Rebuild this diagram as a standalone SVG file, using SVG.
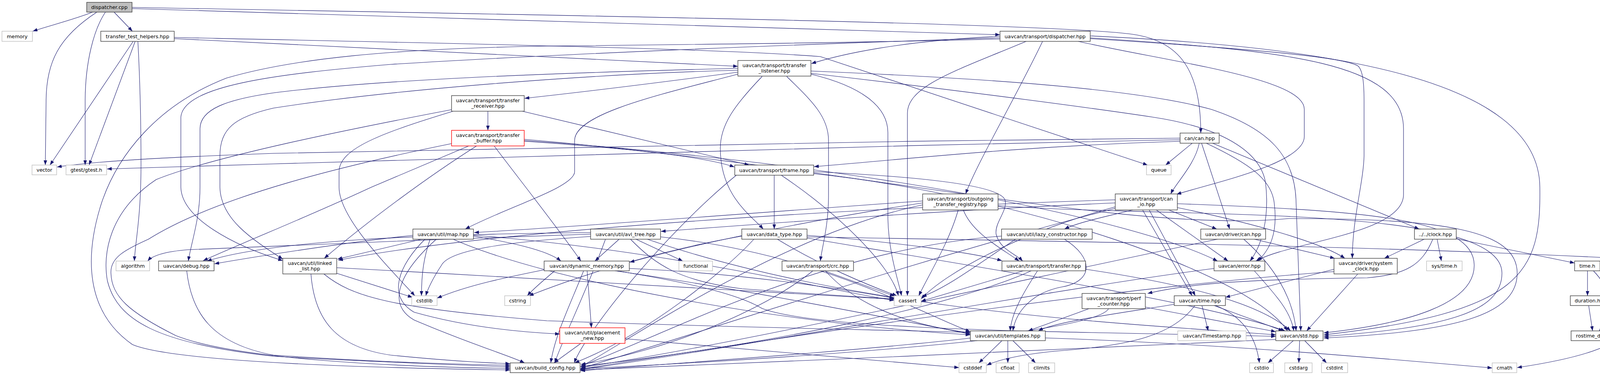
<svg xmlns="http://www.w3.org/2000/svg" width="4193" height="961" viewBox="0 0 4193 961">
<style>
.e path{fill:none;stroke:#191970;stroke-width:1.1;marker-end:url(#ah)}
.nd rect{fill:#fff;stroke:#404040;stroke-width:1.4}
.nd.x rect{stroke:#bfbfbf}
.nd.r rect{stroke:#ff0000}
.nd.root rect{fill:#bfbfbf}
text{font-family:"DejaVu Sans","Liberation Sans",sans-serif;font-size:12.7px;text-anchor:middle;fill:#000}
</style>
<defs>
<marker id="ah" viewBox="0 0 12 9" refX="12" refY="4.5" markerWidth="12" markerHeight="9" orient="auto" markerUnits="userSpaceOnUse"><path d="M0,0 L12,4.5 L0,9 z" fill="#191970"/></marker>
</defs>
<rect width="4193" height="961" fill="#fff"/>
<g id="edges" class="e">
<path d="M237,31 C190,50 125,66 84,80"/>
<path d="M248,31 C150,95 118,160 118,260 L116,423"/>
<path d="M270,31 C240,75 218,160 218,260 L218,423"/>
<path d="M292,31 L339,80"/>
<path d="M338,22 L2560,89"/>
<path d="M338,19 C1500,40 2700,60 2900,88 C3020,105 3074,180 3074,341"/>
<path d="M353,106 C358,200 361,300 361,420 C361,560 346,620 344,669"/>
<path d="M341,106 L128,423"/>
<path d="M346,106 L228,423"/>
<path d="M446,99 L1889,170"/>
<path d="M446,96 C1200,112 1850,125 2100,145 L2938,423"/>
<path d="M2560,93 C2300,105 2150,140 2077,163"/>
<path d="M2669,106 C2600,250 2500,420 2472,497"/>
<path d="M2760,106 C3000,160 3339,200 3339,280 L3339,350 C3339,420 3100,470 3012,498"/>
<path d="M2560,97 C2000,115 1400,140 1000,165 C700,190 470,220 463,300 L463,480 C465,560 600,630 724,668"/>
<path d="M2560,100 C2200,110 1700,115 1400,118 C1000,125 750,150 580,200 C400,270 300,400 260,520 C215,660 220,800 339,883 C450,930 1000,944 1306,948"/>
<path d="M2627,106 C2450,180 2323,220 2323,290 L2323,758"/>
<path d="M2791,92 C3400,120 3940,200 3942,480 C3945,700 3900,800 3389,858"/>
<path d="M2791,97 C3300,130 3593,160 3593,330 L3593,500 C3590,600 3300,620 3215,669"/>
<path d="M2791,99 C3200,125 3430,145 3475,168 C3490,178 3492,220 3492,260 L3492,400 C3490,470 3462,560 3462,662"/>
<path d="M1889,185 C1700,210 1500,235 1343,252"/>
<path d="M1951,196 C1880,270 1844,320 1844,380 C1844,500 1920,550 1954,587"/>
<path d="M2014,196 C2080,260 2121,300 2121,360 L2121,500 C2121,580 2105,630 2100,669"/>
<path d="M1889,175 C1500,185 1000,200 700,238 C580,255 512,280 512,330 L512,480 C512,560 490,620 482,669"/>
<path d="M1889,180 C1500,190 1000,230 700,277 C600,300 563,330 563,400 L563,480 C565,560 640,610 724,664"/>
<path d="M1889,190 C1700,240 1471,290 1471,360 L1471,440 C1471,480 1300,530 1191,587"/>
<path d="M2076,190 C2200,220 2273,270 2273,340 L2273,560 C2275,650 2300,720 2308,758"/>
<path d="M2076,182 C2500,200 2900,225 3100,280 C3250,330 3316,400 3318,520 L3330,848"/>
<path d="M2076,188 C2400,225 2750,270 2950,300 C3150,330 3230,400 3240,470 C3250,560 3230,630 3200,669"/>
<path d="M1249,285 L1249,334"/>
<path d="M1337,285 L1918,423"/>
<path d="M1160,285 C980,340 868,380 868,440 L868,480 C868,560 1000,690 1062,758"/>
<path d="M1156,281 C900,330 550,400 400,460 C280,540 262,650 275,720 C300,820 400,880 700,913 C1000,930 1200,936 1306,940"/>
<path d="M1200,374 L950,480 C800,550 650,610 520,668"/>
<path d="M1220,374 C1100,450 950,560 830,662"/>
<path d="M1265,374 C1330,460 1440,600 1487,669"/>
<path d="M1342,362 C1600,380 1800,400 1880,428"/>
<path d="M1342,357 C2200,430 2900,600 3300,560 C3700,560 3884,590 3884,700 C3884,800 3750,850 3389,866"/>
<path d="M1342,360 C2200,420 2900,560 3117,669"/>
<path d="M1156,368 C900,420 560,500 380,613 C320,640 282,660 284,700 C286,760 330,800 450,860 C600,920 1000,940 1306,944"/>
<path d="M1982,449 L1982,587"/>
<path d="M2083,440 C2300,450 2560,470 2573,513 C2580,540 2546,570 2550,600 C2560,640 2600,650 2618,669"/>
<path d="M2000,449 C2150,550 2280,680 2300,758"/>
<path d="M1885,449 C1700,600 1500,850 1470,930"/>
<path d="M2083,445 C2600,500 3200,700 3296,848"/>
<path d="M3052,367 L2984,423"/>
<path d="M3021,354 C2200,362 1200,378 700,393 C450,402 250,412 146,428"/>
<path d="M3021,358 C2200,375 1200,400 700,420 C500,426 350,430 274,433"/>
<path d="M3021,362 C2600,375 2300,410 2084,427"/>
<path d="M3070,367 C3060,420 3010,470 2997,497"/>
<path d="M3076,367 L3148,587"/>
<path d="M3088,367 C3200,420 3255,460 3262,520 C3272,600 3250,640 3220,669"/>
<path d="M3104,367 L3633,587"/>
<path d="M2466,538 C2490,600 2570,640 2609,669"/>
<path d="M2453,538 C2430,620 2380,700 2352,758"/>
<path d="M2362,515 C2000,540 1500,580 1214,596"/>
<path d="M2362,525 C2000,600 1600,880 1486,940"/>
<path d="M2555,527 C3000,560 3845,520 3845,700 C3845,800 3700,840 3389,862"/>
<path d="M2362,520 C2100,560 1800,620 1612,672"/>
<path d="M2992,538 L3115,587"/>
<path d="M2960,538 L3144,669"/>
<path d="M2925,538 L3052,758"/>
<path d="M2942,538 L3060,758"/>
<path d="M3014,532 C3200,570 3380,620 3443,662"/>
<path d="M2855,520 C2400,540 2000,570 1692,593"/>
<path d="M2900,538 C2830,555 2760,570 2725,587"/>
<path d="M2855,530 C2600,600 2420,700 2358,766"/>
<path d="M3014,522 C3500,540 3774,560 3774,680 C3774,780 3600,830 3389,853"/>
<path d="M2855,534 C2400,650 1800,850 1487,944"/>
<path d="M2855,512 C2000,540 1200,600 866,667"/>
<path d="M478,694 C490,800 540,880 700,910 C1000,930 1200,934 1306,936"/>
<path d="M861,700 L1056,762"/>
<path d="M796,702 C805,820 860,890 1000,910 C1150,925 1250,930 1306,932"/>
<path d="M829,702 C900,760 1000,790 1400,822 C1900,840 2300,846 2484,852"/>
<path d="M862,686 C1400,715 2000,750 2289,767"/>
<path d="M1079,613 L864,664"/>
<path d="M1101,613 C1085,660 1079,700 1079,758"/>
<path d="M1212,605 C1300,620 1400,640 1436,669"/>
<path d="M1088,613 C1020,680 990,760 1060,800 C1200,840 1350,852 1433,856"/>
<path d="M1117,613 C1020,700 990,780 1060,820 C1200,880 1300,910 1343,930"/>
<path d="M1212,603 C1700,640 2100,740 2289,770"/>
<path d="M1160,613 C1400,720 2000,830 2484,858"/>
<path d="M1057,603 C900,620 700,650 549,676"/>
<path d="M1512,600 C1200,610 700,630 480,640 C420,645 390,655 378,669"/>
<path d="M1628,613 L1748,669"/>
<path d="M1585,613 L1523,669"/>
<path d="M1512,606 C1300,620 1150,640 1130,680 C1110,710 1095,740 1090,758"/>
<path d="M1512,596 C1100,600 700,615 530,669"/>
<path d="M1550,613 C1500,750 1440,870 1420,930"/>
<path d="M1691,607 C2100,650 2350,800 2484,850"/>
<path d="M1614,613 C1680,680 1740,720 1900,740 C2100,755 2220,762 2289,766"/>
<path d="M1657,613 C2200,800 2900,830 3266,858"/>
<path d="M2066,603 C2300,620 2500,650 2565,668"/>
<path d="M1899,605 C1700,640 1500,700 1354,758"/>
<path d="M1990,613 C2100,680 2220,730 2296,758"/>
<path d="M1930,613 C1850,700 1650,860 1471,930"/>
<path d="M2066,610 C2600,700 3100,780 3290,848"/>
<path d="M2066,607 C2800,620 3500,630 4105,660 C4180,690 4190,760 4187,790 C4185,870 4100,910 3884,942"/>
<path d="M2110,694 L2290,759"/>
<path d="M2081,694 C1950,800 1700,900 1487,934"/>
<path d="M2113,694 C2180,770 2300,830 2484,853"/>
<path d="M2600,613 C2500,680 2420,740 2360,760"/>
<path d="M2725,613 C2800,660 2800,720 2720,735 C2640,750 2600,800 2593,848"/>
<path d="M2564,605 C2100,640 1700,860 1487,938"/>
<path d="M3211,613 L3417,662"/>
<path d="M3184,613 C3260,680 3310,760 3318,848"/>
<path d="M3117,613 C2600,720 1900,880 1487,942"/>
<path d="M3646,613 L3544,662"/>
<path d="M3679,613 L3690,669"/>
<path d="M3728,612 L4031,674"/>
<path d="M3668,613 C3640,680 3600,703 3500,712 C3200,716 3050,725 2938,752"/>
<path d="M4064,694 L4064,758"/>
<path d="M4079,694 C4125,740 4130,800 4094,848"/>
<path d="M4067,783 L4077,848"/>
<path d="M3415,690 L3137,762"/>
<path d="M3476,702 L3345,848"/>
<path d="M3415,696 C2800,740 1900,880 1486,946"/>
<path d="M1503,694 L1514,840"/>
<path d="M1400,690 C1300,710 1200,730 1119,764"/>
<path d="M1420,694 C1390,720 1365,740 1350,758"/>
<path d="M1494,694 C1460,780 1420,860 1410,930"/>
<path d="M1574,694 C1900,740 2300,820 2484,856"/>
<path d="M1611,688 C1900,700 2150,740 2289,764"/>
<path d="M1579,694 C1800,730 1900,760 1950,790 C2100,850 2800,850 3266,862"/>
<path d="M2620,694 L2358,772"/>
<path d="M2656,694 C2620,750 2590,800 2586,848"/>
<path d="M2640,694 C2450,780 2000,880 1487,939"/>
<path d="M2779,690 C3050,730 3230,780 3304,848"/>
<path d="M3211,694 C3270,760 3305,800 3312,848"/>
<path d="M3108,688 C2700,740 1900,890 1486,947"/>
<path d="M2788,791 L2632,848"/>
<path d="M2932,787 L3266,850"/>
<path d="M2838,791 C2800,860 2000,910 1486,950"/>
<path d="M3077,783 L3093,848"/>
<path d="M3108,783 L3285,848"/>
<path d="M3112,783 C3180,810 3215,860 3224,930"/>
<path d="M3006,780 C2850,805 2700,825 2658,848"/>
<path d="M3059,783 C3000,860 2900,885 2700,900 C2600,910 2550,925 2526,936"/>
<path d="M1600,868 C2000,900 2300,930 2455,942"/>
<path d="M1487,880 L1418,930"/>
<path d="M2565,873 L2506,930"/>
<path d="M2580,873 L2580,930"/>
<path d="M2593,873 L2651,930"/>
<path d="M2502,873 C2200,905 1800,930 1486,945"/>
<path d="M2676,866 C3100,880 3500,915 3820,943"/>
<path d="M3311,873 L3246,930"/>
<path d="M3327,873 L3325,930"/>
<path d="M3340,873 L3396,930"/>
<path d="M3266,870 C2800,895 2000,925 1486,948"/>
</g>
<g id="n1" class="nd root"><rect x="222" y="6" width="116" height="25"/><text x="280" y="23">dispatcher.cpp</text></g>
<g id="n2" class="nd x"><rect x="5" y="80" width="78" height="26"/><text x="44" y="97.5">memory</text></g>
<g id="n3" class="nd"><rect x="258" y="80" width="188" height="26"/><text x="352" y="97.5">transfer_test_helpers.hpp</text></g>
<g id="n4" class="nd x"><rect x="82" y="423" width="63" height="25"/><text x="113.5" y="440">vector</text></g>
<g id="n5" class="nd x"><rect x="169" y="423" width="104" height="25"/><text x="221" y="440">gtest/gtest.h</text></g>
<g id="n6" class="nd"><rect x="2560" y="80" width="231" height="26"/><text x="2675.5" y="97.5">uavcan/transport/dispatcher.hpp</text></g>
<g id="n7" class="nd"><rect x="1889" y="155" width="187" height="40"/><text x="1982.5" y="172">uavcan/transport/transfer</text><text x="1982.5" y="186">_listener.hpp</text></g>
<g id="n8" class="nd"><rect x="1156" y="245" width="186" height="40"/><text x="1249" y="262">uavcan/transport/transfer</text><text x="1249" y="276">_receiver.hpp</text></g>
<g id="n9" class="nd r"><rect x="1156" y="334" width="186" height="40"/><text x="1249" y="351">uavcan/transport/transfer</text><text x="1249" y="365">_buffer.hpp</text></g>
<g id="n10" class="nd"><rect x="1881" y="423" width="202" height="26"/><text x="1982" y="440.5">uavcan/transport/frame.hpp</text></g>
<g id="n11" class="nd"><rect x="3021" y="341" width="100" height="26"/><text x="3071" y="358.5">can/can.hpp</text></g>
<g id="n12" class="nd x"><rect x="2935" y="423" width="63" height="25"/><text x="2966.5" y="440">queue</text></g>
<g id="n13" class="nd"><rect x="2362" y="497" width="193" height="41"/><text x="2458.5" y="514">uavcan/transport/outgoing</text><text x="2458.5" y="528">_transfer_registry.hpp</text></g>
<g id="n14" class="nd"><rect x="2855" y="497" width="159" height="41"/><text x="2934.5" y="514">uavcan/transport/can</text><text x="2934.5" y="528">_io.hpp</text></g>
<g id="n15" class="nd x"><rect x="297" y="669" width="86" height="25"/><text x="340" y="686">algorithm</text></g>
<g id="n16" class="nd"><rect x="406" y="669" width="142" height="25"/><text x="477" y="686">uavcan/debug.hpp</text></g>
<g id="n17" class="nd"><rect x="724" y="662" width="138" height="40"/><text x="793" y="679">uavcan/util/linked</text><text x="793" y="693">_list.hpp</text></g>
<g id="n18" class="nd"><rect x="1057" y="587" width="155" height="26"/><text x="1134.5" y="604.5">uavcan/util/map.hpp</text></g>
<g id="n19" class="nd"><rect x="1512" y="587" width="179" height="26"/><text x="1601.5" y="604.5">uavcan/util/avl_tree.hpp</text></g>
<g id="n20" class="nd"><rect x="1899" y="587" width="167" height="26"/><text x="1982.5" y="604.5">uavcan/data_type.hpp</text></g>
<g id="n21" class="nd"><rect x="2002" y="669" width="183" height="25"/><text x="2093.5" y="686">uavcan/transport/crc.hpp</text></g>
<g id="n22" class="nd"><rect x="2564" y="587" width="232" height="26"/><text x="2680" y="604.5">uavcan/util/lazy_constructor.hpp</text></g>
<g id="n23" class="nd"><rect x="3074" y="587" width="166" height="26"/><text x="3157" y="604.5">uavcan/driver/can.hpp</text></g>
<g id="n24" class="nd"><rect x="3621" y="587" width="107" height="26"/><text x="3674.5" y="604.5">../../clock.hpp</text></g>
<g id="n25" class="nd"><rect x="4031" y="669" width="65" height="25"/><text x="4063.5" y="686">time.h</text></g>
<g id="n26" class="nd x"><rect x="3652" y="669" width="91" height="25"/><text x="3697.5" y="686">sys/time.h</text></g>
<g id="n27" class="nd"><rect x="3415" y="662" width="162" height="40"/><text x="3496" y="679">uavcan/driver/system</text><text x="3496" y="693">_clock.hpp</text></g>
<g id="n28" class="nd"><rect x="1393" y="669" width="218" height="25"/><text x="1502" y="686">uavcan/dynamic_memory.hpp</text></g>
<g id="n29" class="nd x"><rect x="1738" y="669" width="86" height="25"/><text x="1781" y="686">functional</text></g>
<g id="n30" class="nd"><rect x="2565" y="669" width="214" height="25"/><text x="2672" y="686">uavcan/transport/transfer.hpp</text></g>
<g id="n31" class="nd"><rect x="3108" y="669" width="130" height="25"/><text x="3173" y="686">uavcan/error.hpp</text></g>
<g id="n32" class="nd x"><rect x="1054" y="758" width="65" height="25"/><text x="1086.5" y="775">cstdlib</text></g>
<g id="n33" class="nd x"><rect x="1292" y="758" width="66" height="25"/><text x="1325" y="775">cstring</text></g>
<g id="n34" class="nd x"><rect x="2289" y="758" width="69" height="25"/><text x="2323.5" y="775">cassert</text></g>
<g id="n35" class="nd"><rect x="2770" y="752" width="162" height="39"/><text x="2851" y="769">uavcan/transport/perf</text><text x="2851" y="783">_counter.hpp</text></g>
<g id="n36" class="nd"><rect x="3006" y="758" width="131" height="25"/><text x="3071.5" y="775">uavcan/time.hpp</text></g>
<g id="n37" class="nd"><rect x="4020" y="758" width="88" height="25"/><text x="4064" y="775">duration.h</text></g>
<g id="n38" class="nd r"><rect x="1433" y="840" width="167" height="40"/><text x="1516.5" y="857">uavcan/util/placement</text><text x="1516.5" y="871">_new.hpp</text></g>
<g id="n39" class="nd"><rect x="2484" y="848" width="192" height="25"/><text x="2580" y="865">uavcan/util/templates.hpp</text></g>
<g id="n40" class="nd x"><rect x="3015" y="848" width="175" height="25"/><text x="3102.5" y="865">uavcan/Timestamp.hpp</text></g>
<g id="n41" class="nd"><rect x="3266" y="848" width="121" height="25"/><text x="3326.5" y="865">uavcan/std.hpp</text></g>
<g id="n42" class="nd"><rect x="4022" y="848" width="118" height="25"/><text x="4081" y="865">rostime_decl.h</text></g>
<g id="n43" class="nd"><rect x="1306" y="930" width="179" height="25"/><text x="1395.5" y="947">uavcan/build_config.hpp</text></g>
<g id="n44" class="nd x"><rect x="2455" y="930" width="70" height="25"/><text x="2490" y="947">cstddef</text></g>
<g id="n45" class="nd x"><rect x="2550" y="930" width="59" height="25"/><text x="2579.5" y="947">cfloat</text></g>
<g id="n46" class="nd x"><rect x="2633" y="930" width="67" height="25"/><text x="2666.5" y="947">climits</text></g>
<g id="n47" class="nd x"><rect x="3199" y="930" width="61" height="25"/><text x="3229.5" y="947">cstdio</text></g>
<g id="n48" class="nd x"><rect x="3289" y="930" width="70" height="25"/><text x="3324" y="947">cstdarg</text></g>
<g id="n49" class="nd x"><rect x="3383" y="930" width="67" height="25"/><text x="3416.5" y="947">cstdint</text></g>
<g id="n50" class="nd x"><rect x="3820" y="930" width="63" height="25"/><text x="3851.5" y="947">cmath</text></g>
</svg>
